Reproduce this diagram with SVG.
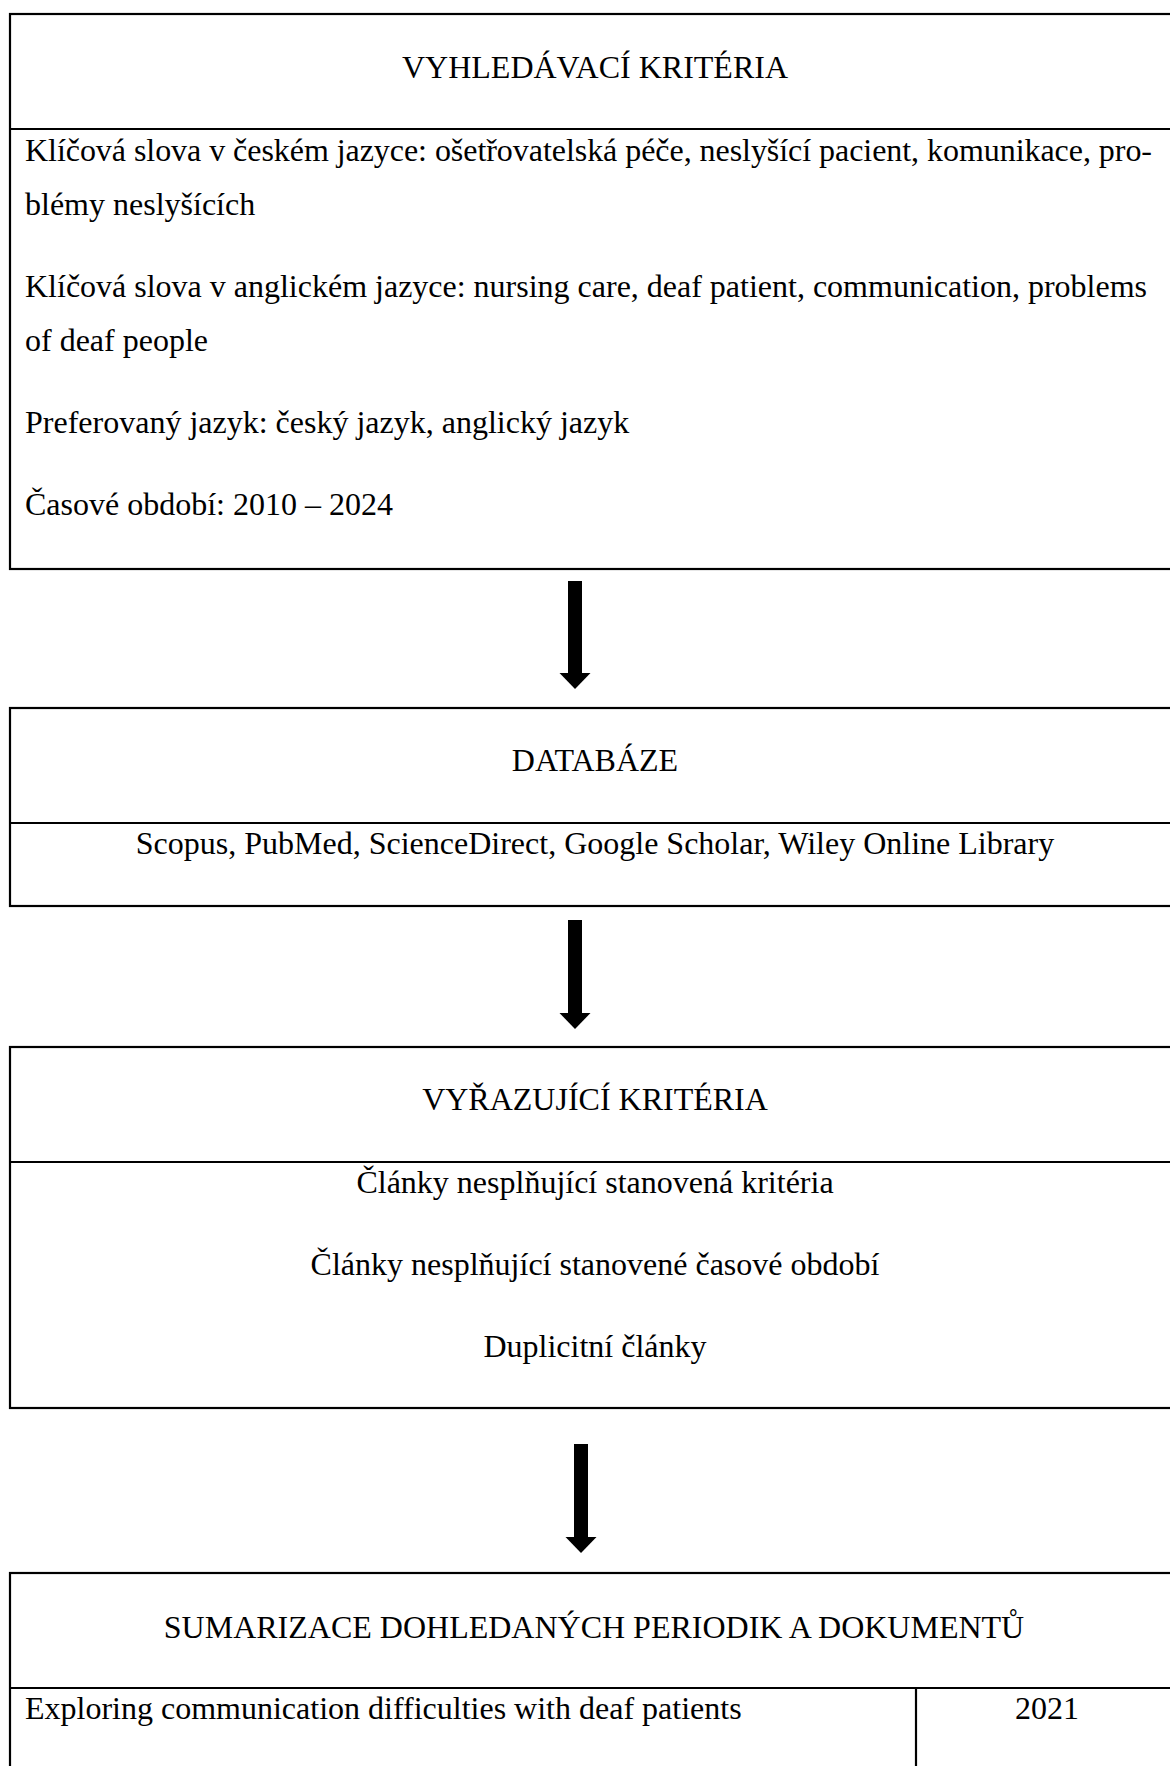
<svg xmlns="http://www.w3.org/2000/svg" width="1170" height="1766" viewBox="0 0 1170 1766">
  <style>
    .box { fill: #ffffff; stroke: #000000; stroke-width: 2.2; }
    .rule { stroke: #000000; stroke-width: 2.2; fill: none; }
    .t { font-family: "Liberation Serif", "Times New Roman", serif; font-size: 32px; fill: #000000; }
    .c { text-anchor: middle; }
    .conn { stroke: #000000; stroke-width: 14; fill: none; }
  </style>
  <defs>
    <marker id="head" markerUnits="userSpaceOnUse" orient="0" markerWidth="32" markerHeight="17" viewBox="-16 0 32 17" refX="0" refY="0" overflow="visible">
      <path d="M-15.5,0 H15.5 L0,16 Z" fill="#000000"/>
    </marker>
  </defs>
  <rect width="1170" height="1766" fill="#ffffff"/>

  <g id="node-vyhledavaci-kriteria">
    <rect class="box" x="10" y="14" width="1180" height="555"/>
    <line class="rule" x1="10" y1="129" x2="1190" y2="129"/>
    <text class="t c" x="595" y="78">VYHLEDÁVACÍ KRITÉRIA</text>
    <text class="t" x="25" y="161" textLength="1127" lengthAdjust="spacing">Klíčová slova v českém jazyce: ošetřovatelská péče, neslyšící pacient, komunikace, pro-</text>
    <text class="t" x="25" y="215">blémy neslyšících</text>
    <text class="t" x="25" y="297" textLength="1122" lengthAdjust="spacing">Klíčová slova v anglickém jazyce: nursing care, deaf patient, communication, problems</text>
    <text class="t" x="25" y="351">of deaf people</text>
    <text class="t" x="25" y="433">Preferovaný jazyk: český jazyk, anglický jazyk</text>
    <text class="t" x="25" y="515">Časové období: 2010 – 2024</text>
  </g>

  <g id="node-databaze">
    <rect class="box" x="10" y="708" width="1180" height="198"/>
    <line class="rule" x1="10" y1="823" x2="1190" y2="823"/>
    <text class="t c" x="595" y="771">DATABÁZE</text>
    <text class="t c" x="595" y="854">Scopus, PubMed, ScienceDirect, Google Scholar, Wiley Online Library</text>
  </g>

  <g id="node-vyrazujici-kriteria">
    <rect class="box" x="10" y="1047" width="1180" height="361"/>
    <line class="rule" x1="10" y1="1162" x2="1190" y2="1162"/>
    <text class="t c" x="595" y="1110">VYŘAZUJÍCÍ KRITÉRIA</text>
    <text class="t c" x="595" y="1193">Články nesplňující stanovená kritéria</text>
    <text class="t c" x="595" y="1275">Články nesplňující stanovené časové období</text>
    <text class="t c" x="595" y="1357">Duplicitní články</text>
  </g>

  <g id="node-sumarizace">
    <rect class="box" x="10" y="1573" width="1180" height="300"/>
    <line class="rule" x1="10" y1="1688" x2="1190" y2="1688"/>
    <line class="rule" x1="916" y1="1688" x2="916" y2="1780"/>
    <text class="t c" x="594" y="1638">SUMARIZACE DOHLEDANÝCH PERIODIK A DOKUMENTŮ</text>
    <text class="t" x="25" y="1719">Exploring communication difficulties with deaf patients</text>
    <text class="t c" x="1047" y="1719">2021</text>
  </g>

  <g id="connectors">
    <line class="conn" x1="575" y1="581" x2="575" y2="673" marker-end="url(#head)"/>
    <line class="conn" x1="575" y1="920" x2="575" y2="1013" marker-end="url(#head)"/>
    <line class="conn" x1="581" y1="1444" x2="581" y2="1537" marker-end="url(#head)"/>
  </g>
</svg>
